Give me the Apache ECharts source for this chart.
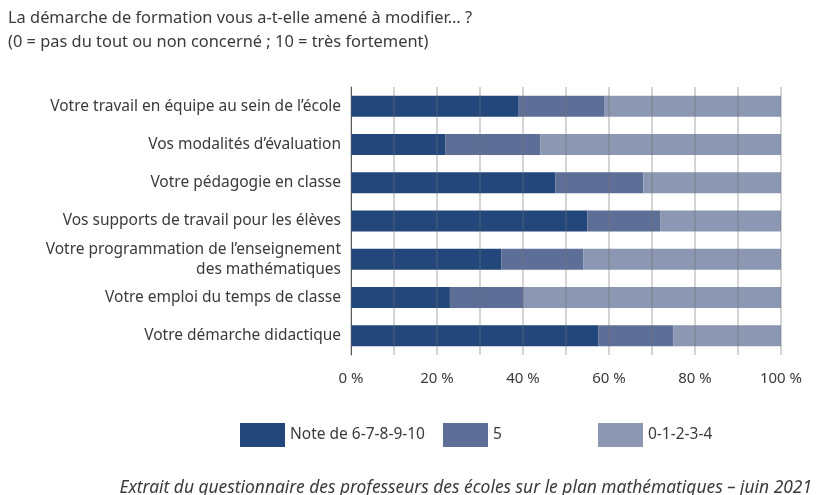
<!DOCTYPE html>
<html>
<head>
<meta charset="utf-8">
<script src="https://cdn.jsdelivr.net/npm/echarts@6/dist/echarts.min.js"></script>
<style>
  html, body { margin: 0; padding: 0; background: #fff; }
  #chart { width: 823px; height: 495px; }
</style>
</head>
<body>
<div id="chart"></div>
<script>
// questions (top to bottom)
const categories = [
  'Votre travail en équipe au sein de l\u2019école',
  'Vos modalités d\u2019évaluation',
  'Votre pédagogie en classe',
  'Vos supports de travail pour les élèves',
  'Votre programmation de l\u2019enseignement\ndes mathématiques',
  'Votre emploi du temps de classe',
  'Votre démarche didactique'
]
const seriesNames = ['Note de 6-7-8-9-10', '5', '0-1-2-3-4']
// parts en %
const high = [39, 22, 47.5, 55, 35, 23, 57.5]
const mid = [20, 22, 20.5, 17, 19, 17, 17.5]
const low = [41, 56, 32, 28, 46, 60, 25]
const colors = ['#23467b', '#5e6f97', '#8c97b3']

const chart = echarts.init(document.getElementById('chart'))
const font = 'Noto Sans'
const textColor = '#3a3a3a'

const mkSeries = (name, data, i) => ({
  name: name,
  type: 'bar',
  stack: 'total',
  data: data,
  barWidth: 21,
  itemStyle: { color: colors[i] },
  z: 2
})

const mkLegend = (name, left) => ({
  data: [name],
  left: left,
  top: 423,
  padding: 0,
  itemWidth: 45,
  itemHeight: 24,
  itemGap: 0,
  icon: 'rect',
  textStyle: { fontFamily: font, fontSize: 15.5, color: textColor }
})

chart.setOption({
  animation: false,
  title: [{
    text: 'La démarche de formation vous a-t-elle amené à modifier\u2026 ?\n(0 = pas du tout ou non concerné ; 10 = très fortement)',
    left: 8,
    top: 6,
    padding: 0,
    textStyle: { fontFamily: font, fontSize: 16.4, fontWeight: 'normal', color: textColor, lineHeight: 24 }
  }, {
    text: 'Extrait du questionnaire des professeurs des écoles sur le plan mathématiques \u2013 juin 2021',
    right: 11,
    top: 480,
    padding: 0,
    textStyle: { fontFamily: font, fontSize: 17.4, fontStyle: 'italic', fontWeight: 'normal', color: textColor }
  }],
  legend: [
    mkLegend(seriesNames[0], 240),
    mkLegend(seriesNames[1], 443),
    mkLegend(seriesNames[2], 598)
  ],
  grid: { left: 351, right: 42, top: 87, bottom: 140 },
  xAxis: {
    type: 'value',
    min: 0,
    max: 100,
    interval: 10,
    z: 5,
    axisLine: { show: false },
    axisTick: { show: false },
    axisLabel: {
      margin: 16,
      fontFamily: font,
      fontSize: 15,
      color: textColor,
      formatter: v => (v % 20 === 0 ? v + ' %' : '')
    },
    splitLine: { show: true, lineStyle: { color: 'rgba(110,110,110,0.4)', width: 1.5 } }
  },
  yAxis: {
    type: 'category',
    data: categories,
    inverse: true,
    axisLine: { show: true, lineStyle: { color: '#555', width: 1 } },
    axisTick: { show: false },
    axisLabel: {
      margin: 10,
      fontFamily: font,
      fontSize: 15.5,
      color: textColor,
      lineHeight: 20,
      align: 'right'
    }
  },
  series: [
    mkSeries(seriesNames[0], high, 0),
    mkSeries(seriesNames[1], mid, 1),
    mkSeries(seriesNames[2], low, 2)
  ]
})
</script>
</body>
</html>
